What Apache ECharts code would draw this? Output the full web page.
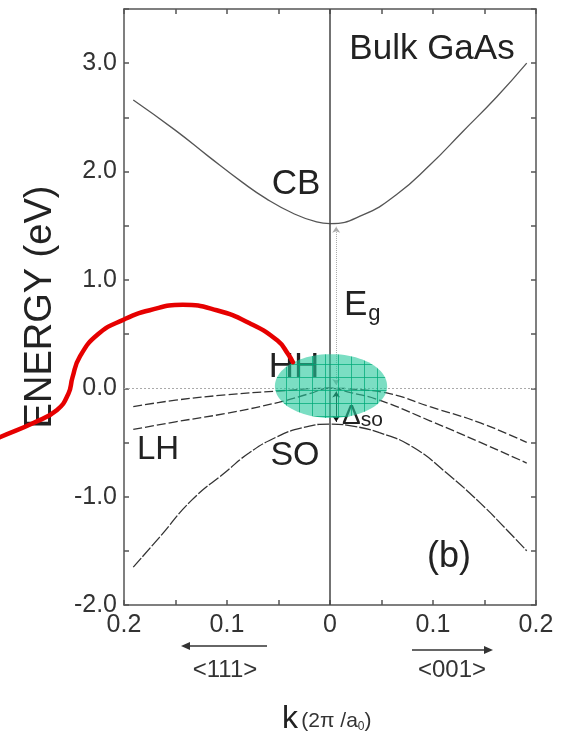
<!DOCTYPE html>
<html>
<head>
<meta charset="utf-8">
<script src="https://cdn.jsdelivr.net/npm/echarts@6/dist/echarts.min.js"></script>
<style>
html, body { margin: 0; padding: 0; background: #fff; }
#chart { width: 566px; height: 739px; }
</style>
</head>
<body>
<div id="chart"></div>
<script>
// band energies [k (2pi/a0), E (eV)], negative k = <111>, positive k = <001>
const bandCB = [[-0.191, 2.66], [-0.15, 2.38], [-0.118, 2.14], [-0.085, 1.90], [-0.062, 1.75], [-0.037, 1.62], [-0.013, 1.535], [0, 1.52],
    [0.032, 1.60], [0.065, 1.79], [0.097, 2.06], [0.129, 2.37], [0.162, 2.69], [0.191, 3.00]];
const bandHH = [[-0.191, -0.17], [-0.15, -0.11], [-0.1, -0.06], [-0.05, -0.025], [0, 0], [0.025, -0.01], [0.058, -0.05], [0.097, -0.17], [0.146, -0.32], [0.191, -0.50]];
const bandLH = [[-0.191, -0.38], [-0.15, -0.31], [-0.1, -0.23], [-0.05, -0.13], [-0.02, -0.05], [0, 0], [0.02, -0.04], [0.048, -0.11], [0.097, -0.30], [0.146, -0.50], [0.191, -0.69]];
const bandSO = [[-0.191, -1.65], [-0.166, -1.38], [-0.134, -1.03], [-0.101, -0.77], [-0.079, -0.60], [-0.052, -0.45], [-0.027, -0.365], [0, -0.33],
    [0.019, -0.345], [0.048, -0.41], [0.080, -0.54], [0.113, -0.78], [0.146, -1.06], [0.172, -1.31], [0.191, -1.50]];

// hand drawn red stroke and the green highlight
const redTrace = [[-0.33, -0.50], [-0.32, -0.45], [-0.288, -0.32], [-0.265, -0.20], [-0.254, -0.05], [-0.25, 0.10], [-0.243, 0.29], [-0.225, 0.50],
    [-0.2, 0.635], [-0.175, 0.72], [-0.143, 0.77], [-0.11, 0.72], [-0.078, 0.60], [-0.051, 0.44], [-0.041, 0.32], [-0.036, 0.24]];
const ellipseCenter = [[0.001, 0.02]];
const ellipseSize = [0.0545, 0.295];

// gap arrows
const gapArrow = [[0.006, 0.03], [0.006, 1.49]];
const soArrow = [[0.006, -0.03], [0.006, -0.31]];

const xTickValues = [-0.2, -0.1, 0, 0.1, 0.2];
const xTickLabels = ['0.2', '0.1', '0', '0.1', '0.2'];
const yTickValues = [-2, -1, 0, 1, 2, 3];
const yTickLabels = ['-2.0', '-1.0', '0.0', '1.0', '2.0', '3.0'];

const FONT = '"Liberation Sans", Arial, sans-serif';
const chart = echarts.init(document.getElementById('chart'));

const pick = (vals, labels) => v => {
    const i = vals.findIndex(t => Math.abs(t - v) < 1e-6);
    return i < 0 ? '' : labels[i];
};

// grid texture for the ellipse
const tex = document.createElement('canvas');
tex.width = 13;
tex.height = 13;
const tc = tex.getContext('2d');
tc.fillStyle = 'rgba(35,200,155,0.6)';
tc.fillRect(0, 0, 13, 13);
tc.strokeStyle = 'rgba(0,170,120,0.75)';
tc.lineWidth = 1;
tc.beginPath();
tc.moveTo(0.5, 0); tc.lineTo(0.5, 13);
tc.moveTo(0, 0.5); tc.lineTo(13, 0.5);
tc.stroke();

const axisCommon = {
    type: 'value',
    axisLine: { show: true, onZero: false, lineStyle: { color: '#555', width: 1.5 } },
    axisTick: { show: true, inside: true, length: 5, lineStyle: { color: '#555', width: 1.5 } },
    splitLine: { show: false }
};

const band = (data, color, dash) => ({
    type: 'line',
    data,
    smooth: 0.5,
    symbol: 'none',
    silent: true,
    lineStyle: { color, width: 1.3, type: dash }
});

const text = (str, x, y, size, extra) => ({
    type: 'text',
    x, y,
    style: Object.assign({ text: str, font: size + 'px ' + FONT, fill: '#222', align: 'center', verticalAlign: 'middle' }, extra || {})
});

chart.setOption({
    animation: false,
    grid: { left: 124, right: 30, top: 9, bottom: 134 },
    xAxis: [
        Object.assign({}, axisCommon, {
            position: 'bottom', min: -0.2, max: 0.2, interval: 0.05,
            axisLabel: { formatter: pick(xTickValues, xTickLabels), color: '#333', fontSize: 25, fontFamily: FONT, margin: 8 }
        }),
        Object.assign({}, axisCommon, {
            position: 'top', min: -0.2, max: 0.2, interval: 0.05,
            axisLabel: { show: false }
        })
    ],
    yAxis: [
        Object.assign({}, axisCommon, {
            position: 'left', min: -2, max: 3.5, interval: 0.5,
            name: 'ENERGY (eV)', nameLocation: 'middle', nameGap: 64,
            nameTextStyle: { fontSize: 38, fontFamily: FONT, color: '#222' },
            axisLabel: { formatter: pick(yTickValues, yTickLabels), color: '#333', fontSize: 25, fontFamily: FONT, margin: 7 }
        }),
        Object.assign({}, axisCommon, {
            position: 'right', min: -2, max: 3.5, interval: 0.5,
            axisLabel: { show: false }
        })
    ],
    series: [
        {
            type: 'line',
            data: [],
            silent: true,
            markLine: {
                silent: true,
                symbol: 'none',
                label: { show: false },
                data: [
                    { yAxis: 0, lineStyle: { color: '#aaa', width: 1, type: [2, 2] } },
                    { xAxis: 0, lineStyle: { color: '#444', width: 1.5, type: 'solid' } }
                ]
            }
        },
        band(bandCB, '#555', 'solid'),
        band(bandHH, '#333', [9, 3]),
        band(bandLH, '#333', [9, 3]),
        band(bandSO, '#333', [12, 2]),
        {
            type: 'line',
            data: [],
            silent: true,
            markLine: {
                silent: true,
                symbol: ['arrow', 'arrow'],
                symbolSize: 6,
                label: { show: false },
                data: [
                    [{ coord: gapArrow[0] }, { coord: gapArrow[1], lineStyle: { color: '#aaa', width: 1, type: 'dotted' } }],
                    [{ coord: soArrow[0] }, { coord: soArrow[1], lineStyle: { color: '#111', width: 1, type: 'solid' } }]
                ]
            }
        },
        {
            type: 'custom',
            data: ellipseCenter,
            silent: true,
            z: 20,
            renderItem: (params, api) => {
                const c = api.coord([api.value(0), api.value(1)]);
                const s = api.size([ellipseSize[0], ellipseSize[1]]);
                const pts = [];
                for (let i = 0; i < 90; i++) {
                    const a = i / 90 * Math.PI * 2;
                    pts.push([c[0] + s[0] * Math.cos(a), c[1] + s[1] * Math.sin(a)]);
                }
                return { type: 'polygon', shape: { points: pts }, style: { fill: { image: tex, repeat: 'repeat' } } };
            }
        },
        {
            // red stroke runs past the axis, so draw it as one polyline
            type: 'custom',
            data: [0],
            silent: true,
            clip: false,
            z: 30,
            renderItem: (params, api) => ({
                type: 'polyline',
                shape: { points: redTrace.map(p => api.coord(p)), smooth: 0.5 },
                style: { stroke: '#e60000', lineWidth: 4.5, fill: null, lineCap: 'round' }
            })
        }
    ],
    graphic: [
        text('Bulk GaAs', 432, 49, 35),
        text('CB', 296, 184, 35),
        {
            type: 'text', x: 344, y: 305,
            style: {
                text: '{e|E}{g|g}', font: '35px ' + FONT, fill: '#222', verticalAlign: 'middle',
                rich: { e: { fontSize: 35, fontFamily: FONT, fill: '#222' }, g: { fontSize: 22, fontFamily: FONT, fill: '#222', padding: [18, 0, 0, 1] } }
            }
        },
        text('HH', 294, 367, 35),
        text('LH', 158, 450, 33),
        text('SO', 295, 456, 34),
        {
            type: 'text', x: 342, y: 416,
            style: {
                text: '{d|Δ}{s|so}', fill: '#222', verticalAlign: 'middle',
                rich: { d: { fontSize: 28, fontFamily: FONT, fill: '#222' }, s: { fontSize: 21, fontFamily: FONT, fill: '#222', padding: [8, 0, 0, 0] } }
            }
        },
        text('(b)', 449, 557, 36),
        text('<111>', 225, 670, 24, { fill: '#333' }),
        text('<001>', 452, 670, 24, { fill: '#333' }),
        { type: 'line', shape: { x1: 267, y1: 646, x2: 188, y2: 646 }, style: { stroke: '#333', lineWidth: 1.5 } },
        { type: 'polygon', shape: { points: [[181, 646], [190, 642], [190, 650]] }, style: { fill: '#333' } },
        { type: 'line', shape: { x1: 412, y1: 650, x2: 486, y2: 650 }, style: { stroke: '#333', lineWidth: 1.5 } },
        { type: 'polygon', shape: { points: [[493, 650], [484, 646], [484, 654]] }, style: { fill: '#333' } },
        {
            type: 'text', x: 282, y: 719,
            style: {
                text: '{k|k} {p|(2π /a}{z|0}{p|)}', fill: '#222', verticalAlign: 'middle',
                rich: {
                    k: { fontSize: 32, fontFamily: FONT, fill: '#222' },
                    p: { fontSize: 21, fontFamily: FONT, fill: '#333', padding: [4, 0, 0, 0] },
                    z: { fontSize: 12, fontFamily: FONT, fill: '#333', padding: [16, 0, 0, 0] }
                }
            }
        }
    ]
});
</script>
</body>
</html>
